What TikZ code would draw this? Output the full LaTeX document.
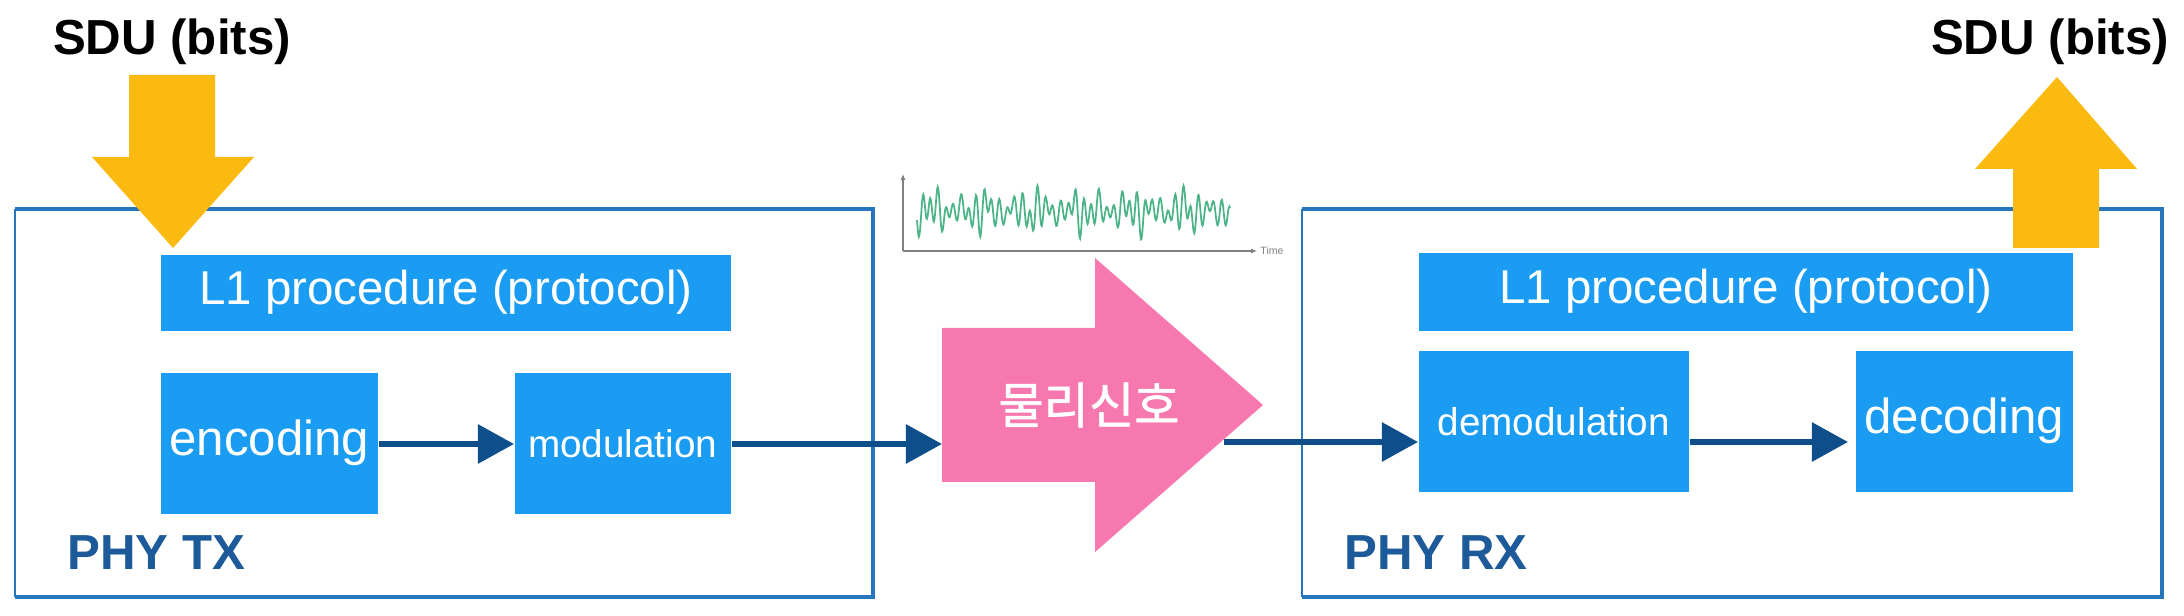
\documentclass[tikz,border=0pt]{standalone}
\usepackage{fontspec}
\setmainfont{Liberation Sans}
\newfontfamily\kofont{Noto Sans CJK KR}[FakeBold=1.2]
\usetikzlibrary{arrows.meta,positioning,calc}
\definecolor{Sky}{HTML}{1A9CF2}
\definecolor{Frame}{HTML}{2576BC}
\definecolor{Navy}{HTML}{0E4F8B}
\definecolor{Gold}{HTML}{FBBA10}
\definecolor{Pink}{HTML}{F778AE}
\definecolor{Wave}{HTML}{4DB487}
\definecolor{PhyText}{HTML}{1D5A99}

\begin{document}
\begin{tikzpicture}[x=.01cm,y=-.01cm,
    box/.style={fill=Sky,text=white,inner sep=0pt,anchor=north west},
    flow/.style={draw=Navy,line width=1.7pt,-{Triangle[length=.36cm,width=.38cm]}},
    big/.style={font=\fontsize{14}{16}\selectfont},
    small/.style={font=\fontsize{11}{13}\selectfont}]
    \useasboundingbox (0,0) rectangle (2184,616);
    % TX and RX frames
    \foreach \xa/\xb in {15/873,1302/2162}{
      \draw[Frame,line width=.5pt] (\xa,597) -- (\xa,209);
      \draw[Frame,line width=1.3pt] (\xa,209) -- (\xb,209) -- (\xb,597) -- (\xa,597);
    }
    \node[anchor=base west,text=PhyText,font=\bfseries\fontsize{14}{16}\selectfont] (phytx) at (55,570) {PHY TX};
    \node[anchor=base west,text=PhyText,font=\bfseries\fontsize{14}{16}\selectfont] (phyrx) at (1332,570) {PHY RX};
    % SDU in and out
    \node[font=\bfseries\fontsize{14}{16}\selectfont] (sdutx) at (172,42) {SDU (bits)};
    \node[font=\bfseries\fontsize{14}{16}\selectfont] (sdurx) at (2050,42) {SDU (bits)};
    \fill[Gold] (129,75) -- (215,75) -- (215,157) -- (254,157) -- (173,248) -- (92,157) -- (129,157) -- cycle;
    \fill[Gold] (2013,248) -- (2013,169) -- (1975,169) -- (2057,77) -- (2137,169) -- (2099,169) -- (2099,248) -- cycle;
    % TX blocks
    \node[box,big,minimum width=5.7cm,minimum height=.76cm,font=\fontsize{13.5}{16}\selectfont] (l1tx) at (160,254) {L1 procedure (protocol)};
    \node[box,big,minimum width=2.17cm,minimum height=1.41cm] (enc) at (160,372) {encoding};
    \node[box,small,minimum width=2.16cm,minimum height=1.41cm] (mod) at (514,372) {modulation};
    % RX blocks
    \node[box,minimum width=6.54cm,minimum height=.78cm,font=\fontsize{13.5}{16}\selectfont] (l1rx) at (1418,252) {L1 procedure (protocol)};
    \node[box,small,minimum width=2.70cm,minimum height=1.41cm] (demod) at (1418,350) {demodulation};
    \node[box,big,minimum width=2.17cm,minimum height=1.41cm] (dec) at (1855,350) {decoding};
    % physical signal
    \fill[Pink] (942,328) -- (1095,328) -- (1095,258) -- (1263,405) -- (1095,552) -- (1095,482) -- (942,482) -- cycle;
    \node[text=white,font=\kofont\fontsize{14}{16}\selectfont] (sig) at (1089,405) {물리신호};
    \coordinate (sigin) at (942,444);
    \coordinate (sigout) at (1224,442);
    % waveform
    \draw[gray,line width=.3pt,-{Latex[length=.6mm,width=.5mm]}] (903,251) -- (903,174);
    \draw[gray,line width=.3pt,-{Latex[length=.6mm,width=.5mm]}] (903,251) -- (1257,251);
    \node[gray,font=\fontsize{3}{4}\selectfont,inner sep=0pt] (time) at (1272,251) {Time};
    \draw[Wave,line width=.5pt] plot[domain=0:313,samples=500]
      ({917+\x},{211+32*(.5*sin(47*\x)+.3*sin(29*\x+40)+.2*sin(13*\x+70))*(.75+.25*sin(7*\x))});
    % connectors
    \draw[flow] (enc.east |- sigin) -- (mod.west |- sigin);
    \draw[flow] (mod.east |- sigin) -- (sigin);
    \draw[flow] (sigout) -- (sigout -| demod.west);
    \draw[flow,shorten >=.07cm] (demod.east |- sigout) -- (dec.west |- sigout);
  \end{tikzpicture}
\end{document}
